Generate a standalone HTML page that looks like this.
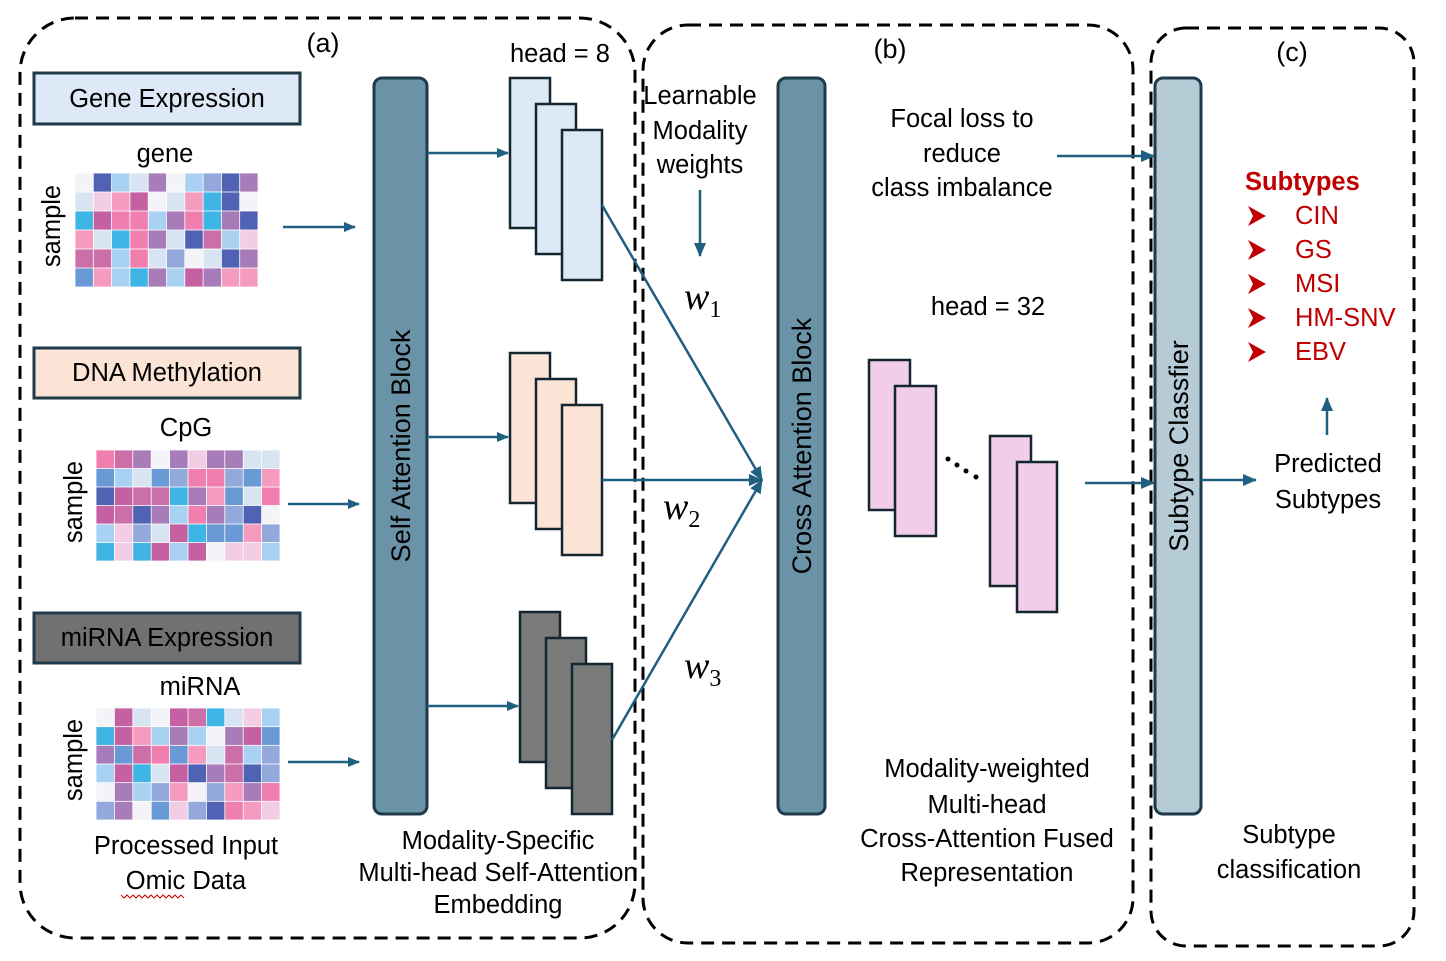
<!DOCTYPE html>
<html><head><meta charset="utf-8"><style>
body{margin:0;background:#fff}
svg{display:block;font-family:"Liberation Sans",sans-serif}
</style></head><body>
<svg id="s" width="1446" height="961" viewBox="0 0 1446 961" xmlns="http://www.w3.org/2000/svg">
<defs>
<marker id="ar" markerWidth="12" markerHeight="10" refX="11" refY="5" orient="auto" markerUnits="userSpaceOnUse"><path d="M0,0 L12,5 L0,10 z" fill="#1f5f80"/></marker>
<marker id="ar2" markerWidth="14" markerHeight="12" refX="13" refY="6" orient="auto" markerUnits="userSpaceOnUse"><path d="M0,0 L14,6 L0,12 z" fill="#1f5f80"/></marker>
</defs>
<g fill="none" stroke="#000" stroke-width="3" stroke-dasharray="13 8">
<rect x="20" y="18" width="615" height="920" rx="55"/>
<rect x="643" y="25" width="490" height="918" rx="45"/>
<rect x="1151" y="28" width="263" height="918" rx="35"/>
</g>
<g font-size="27" text-anchor="middle" fill="#000">
<text x="323" y="52">(a)</text><text x="890" y="58">(b)</text><text x="1292" y="61">(c)</text>
</g>
<g stroke="#1f3a4a" stroke-width="3">
<rect x="34" y="73" width="266" height="51" fill="#dde9f7"/>
<rect x="34" y="348" width="266" height="50" fill="#fbe3d5"/>
<rect x="34" y="613" width="266" height="50" fill="#717171"/>
</g>
<g font-size="25.5" text-anchor="middle" fill="#000">
<text x="167" y="107">Gene Expression</text>
<text x="167" y="381">DNA Methylation</text>
<text x="167" y="646">miRNA Expression</text>
<text x="165" y="162">gene</text>
<text x="186" y="436">CpG</text>
<text x="200" y="695">miRNA</text>
<text transform="translate(60,226) rotate(-90)">sample</text>
<text transform="translate(82,502) rotate(-90)">sample</text>
<text transform="translate(82,760) rotate(-90)">sample</text>
<text x="186" y="854">Processed Input</text>
<text x="186" y="889">Omic Data</text>
<text x="498" y="849">Modality-Specific</text>
<text x="498" y="881">Multi-head Self-Attention</text>
<text x="498" y="913">Embedding</text>
<text x="560" y="62">head = 8</text>
<text x="700" y="104">Learnable</text>
<text x="700" y="139">Modality</text>
<text x="700" y="173">weights</text>
<text x="962" y="127">Focal loss to</text>
<text x="962" y="162">reduce</text>
<text x="962" y="196">class imbalance</text>
<text x="988" y="315">head = 32</text>
<text x="987" y="777">Modality-weighted</text>
<text x="987" y="813">Multi-head</text>
<text x="987" y="847">Cross-Attention Fused</text>
<text x="987" y="881">Representation</text>
<text x="1289" y="843">Subtype</text>
<text x="1289" y="878">classification</text>
<text x="1328" y="472">Predicted</text>
<text x="1328" y="508">Subtypes</text>
</g>
<path d="M121,895 l3,3 l3,-3 l3,3 l3,-3 l3,3 l3,-3 l3,3 l3,-3 l3,3 l3,-3 l3,3 l3,-3 l3,3 l3,-3 l3,3 l3,-3 l3,3 l3,-3 l3,3 l3,-3 l3,3" stroke="#c00" fill="none" stroke-width="1"/>
<g id="hm"></g>
<g stroke="#1f3a4a" stroke-width="3">
<rect x="374" y="78" width="53" height="736" rx="8" fill="#6a93a8"/>
<rect x="778" y="78" width="47" height="736" rx="8" fill="#6a93a8"/>
<rect x="1155" y="78" width="46" height="736" rx="8" fill="#b5cbd6"/>
</g>
<g font-size="27" text-anchor="middle" fill="#000">
<text transform="translate(410,446) rotate(-90)">Self Attention Block</text>
<text transform="translate(811,446) rotate(-90)">Cross Attention Block</text>
<text transform="translate(1188,446) rotate(-90)">Subtype Classfier</text>
</g>
<g stroke="#14262f" stroke-width="2.5">
<g fill="#dde9f7"><rect x="510" y="78" width="40" height="150"/><rect x="536" y="104" width="40" height="150"/><rect x="562" y="130" width="40" height="150"/></g>
<g fill="#fbe3d5"><rect x="510" y="353" width="40" height="150"/><rect x="536" y="379" width="40" height="150"/><rect x="562" y="405" width="40" height="150"/></g>
<g fill="#7a7a7a"><rect x="520" y="612" width="40" height="150"/><rect x="546" y="638" width="40" height="150"/><rect x="572" y="664" width="40" height="150"/></g>
<g fill="#f2cde9"><rect x="869" y="360" width="41" height="150"/><rect x="895" y="386" width="41" height="150"/><rect x="990" y="436" width="41" height="150"/><rect x="1017" y="462" width="40" height="150"/></g>
</g>
<g fill="#000"><circle cx="948" cy="459" r="2.5"/><circle cx="957" cy="465" r="2.5"/><circle cx="966" cy="471" r="2.5"/><circle cx="976" cy="477" r="2.5"/></g>
<g stroke="#1f5f80" stroke-width="2.5" fill="none">
<line x1="283" y1="227" x2="355" y2="227" marker-end="url(#ar)"/>
<line x1="288" y1="504" x2="359" y2="504" marker-end="url(#ar)"/>
<line x1="288" y1="762" x2="359" y2="762" marker-end="url(#ar)"/>
<line x1="427" y1="153" x2="508" y2="153" marker-end="url(#ar)"/>
<line x1="427" y1="437" x2="508" y2="437" marker-end="url(#ar)"/>
<line x1="427" y1="706" x2="518" y2="706" marker-end="url(#ar)"/>
<line x1="602" y1="205" x2="762" y2="480" marker-end="url(#ar2)"/>
<line x1="602" y1="480" x2="762" y2="480" marker-end="url(#ar2)"/>
<line x1="612" y1="740" x2="762" y2="480" marker-end="url(#ar2)"/>
<line x1="700" y1="190" x2="700" y2="256" marker-end="url(#ar2)"/>
<line x1="1057" y1="156" x2="1154" y2="156" marker-end="url(#ar2)"/>
<line x1="1085" y1="483" x2="1154" y2="483" marker-end="url(#ar2)"/>
<line x1="1201" y1="480" x2="1256" y2="480" marker-end="url(#ar2)"/>
<line x1="1327" y1="435" x2="1327" y2="398" marker-end="url(#ar2)"/>
</g>
<g font-family="Liberation Serif,serif" font-style="italic" font-size="38" fill="#000">
<text x="684" y="309">w<tspan font-size="24" font-style="normal" dy="8">1</tspan></text>
<text x="663" y="519">w<tspan font-size="24" font-style="normal" dy="8">2</tspan></text>
<text x="684" y="678">w<tspan font-size="24" font-style="normal" dy="8">3</tspan></text>
</g>
<g fill="#c00000" font-size="25.5">
<text x="1245" y="190" font-weight="bold">Subtypes</text>
<text x="1295" y="224">CIN</text><text x="1295" y="258">GS</text><text x="1295" y="292">MSI</text><text x="1295" y="326">HM-SNV</text><text x="1295" y="360">EBV</text>
<g id="chev"></g>
</g>
</svg>
<script>
var NS="http://www.w3.org/2000/svg";
var pal=["#c561a3","#a9d1f2","#3fb5e6","#d8e4f2","#cc6fa8","#a87bb9","#f3f3f8","#4f62b3","#f49bbf","#6a9ad6","#f2cde3","#93a9dc","#f07fb0"];
var seed=7;function r(){seed=(seed*9301+49297)%233280;return seed/233280;}
var hm=document.getElementById("hm");
[[75,173,183,114],[96,450,184,111],[96,708,184,112]].forEach(function(b){
 var cw=b[2]/10,ch=b[3]/6;
 for(var i=0;i<6;i++)for(var j=0;j<10;j++){
  var e=document.createElementNS(NS,"rect");
  e.setAttribute("x",b[0]+j*cw+0.4);e.setAttribute("y",b[1]+i*ch+0.4);
  e.setAttribute("width",cw-0.8);e.setAttribute("height",ch-0.8);
  e.setAttribute("fill",pal[Math.floor(r()*pal.length)]);hm.appendChild(e);}
});
var c=document.getElementById("chev");
[216,250,284,318,352].forEach(function(y){
 var p=document.createElementNS(NS,"path");
 p.setAttribute("d","M1248,"+(y-10)+" L1266,"+y+" L1248,"+(y+10)+" L1253,"+y+" Z");
 p.setAttribute("fill","#c00000");c.appendChild(p);});
</script>
</body></html>
